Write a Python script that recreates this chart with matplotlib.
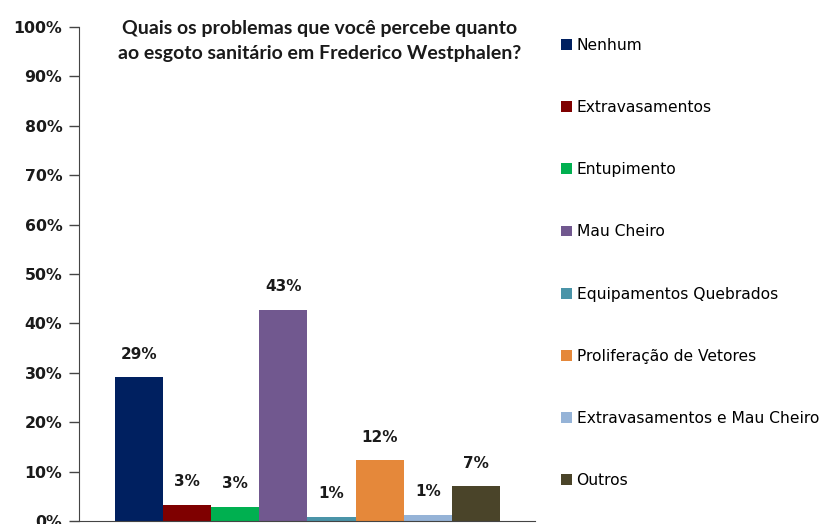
import numpy as np
import matplotlib
matplotlib.use('Agg')
import matplotlib.pyplot as plt
from matplotlib.patches import Patch

# Data
categorias = ['Nenhum', 'Extravasamentos', 'Entupimento', 'Mau Cheiro',
              'Equipamentos Quebrados', 'Proliferação de Vetores',
              'Extravasamentos e Mau Cheiro', 'Outros']
valores = [29.1, 3.2, 2.8, 42.7, 0.8, 12.3, 1.3, 7.0]
rotulos = ['29%', '3%', '3%', '43%', '1%', '12%', '1%', '7%']
cores = ['#002060', '#7F0000', '#00B050', '#71588F',
         '#4A94A8', '#E5883A', '#95B3D7', '#4A4429']

titulo = 'Quais os problemas que você percebe quanto\nao esgoto sanitário em Frederico Westphalen?'

fig = plt.figure(figsize=(8.23, 5.24), dpi=100)
ax = fig.add_axes([79/823, 3/524, 456/823, 494/524])

x = np.arange(len(valores))
ax.bar(x, valores, width=1.0, color=cores)

# value labels above bars
for xi, v, r in zip(x, valores, rotulos):
    ax.text(xi, v + 4.7, r, ha='center', va='center', fontsize=11,
            fontweight='bold', family='DejaVu Sans', color='#1a1a1a')

ax.set_xlim(-1.25, 8.23)
ax.set_ylim(0, 100)
ax.set_yticks(np.arange(0, 101, 10))
ax.set_yticklabels([f'{t}%' for t in range(0, 101, 10)])
ax.set_xticks([])
for lbl in ax.get_yticklabels():
    lbl.set_fontweight('bold')
    lbl.set_fontsize(11.3)
    lbl.set_family('DejaVu Sans')
    lbl.set_color('#1a1a1a')
ax.tick_params(axis='y', length=7, width=1, pad=5, color='#444444')
ax.spines['top'].set_visible(False)
ax.spines['right'].set_visible(False)
ax.spines['left'].set_color('#444444')
ax.spines['bottom'].set_color('#444444')

fig.text(320/823, 1 - 41/524, titulo, ha='center', va='center',
         fontsize=14, fontweight='bold', family='Lato',
         linespacing=1.55, color='#1a1a1a')

handles = [Patch(facecolor=c, edgecolor='none') for c in cores]
fig.legend(handles, categorias, loc='upper left',
           bbox_to_anchor=(561/823, 1 - 38/524), frameon=False,
           fontsize=11.2, handlelength=0.7, handleheight=0.7,
           handletextpad=0.3, labelspacing=3.03, borderpad=0,
           borderaxespad=0)

fig.savefig('out.png', dpi=100)
